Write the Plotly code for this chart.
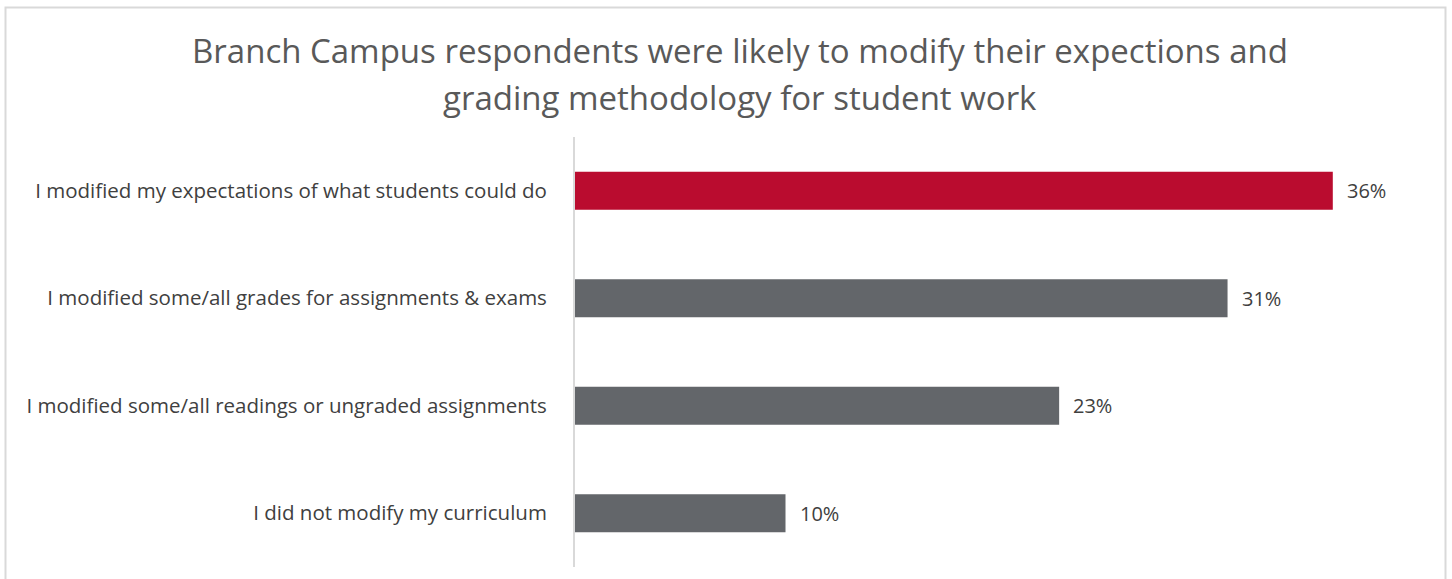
import plotly.graph_objects as go

categories = [
    "I modified my expectations of what students could do",
    "I modified some/all grades for assignments & exams",
    "I modified some/all readings or ungraded assignments",
    "I did not modify my curriculum",
]
values = [36, 31, 23, 10]
value_labels = ["36%", "31%", "23%", "10%"]
bar_colors = ["#BA0C2F", "#63666A", "#63666A", "#63666A"]

title_lines = [
    "Branch Campus respondents were likely to modify their expections and",
    "grading methodology for student work",
]

FONT = "Open Sans, Segoe UI, sans-serif"

W, H = 1452, 579
ML, MR, MT, MB = 575, 35, 137, 12
plot_w = W - ML - MR
plot_h = H - MT - MB


def px_x(x):
    return (x - ML) / plot_w


def px_y(y):
    return (H - MB - y) / plot_h


fig = go.Figure(
    go.Bar(
        y=categories,
        x=values,
        orientation="h",
        marker=dict(color=bar_colors, line=dict(width=0)),
        hoverinfo="skip",
    )
)

# value labels to the right of each bar
for cat, v, lab in zip(categories, values, value_labels):
    fig.add_annotation(
        x=v, y=cat, text=lab, xanchor="left", yanchor="middle",
        xshift=12, showarrow=False,
        font=dict(family=FONT, size=20, color="#404040"),
    )

# centred two-line heading
for line, yc in zip(title_lines, [50, 97]):
    fig.add_annotation(
        x=px_x(740), y=px_y(yc), xref="paper", yref="paper", text=line,
        showarrow=False, align="center", xanchor="center", yanchor="middle",
        font=dict(family=FONT, size=33, color="#595959"),
    )

fig.update_layout(
    width=W, height=H,
    margin=dict(l=ML, r=MR, t=MT, b=MB),
    paper_bgcolor="white", plot_bgcolor="white",
    showlegend=False,
    bargap=0.645,
    xaxis=dict(range=[0, 40], visible=False, fixedrange=True),
    yaxis=dict(
        autorange="reversed",
        showline=True, linecolor="#D9D9D9", linewidth=2,
        showgrid=False, zeroline=False, ticks="",
        ticklabelstandoff=22,
        tickfont=dict(family=FONT, size=20.5, color="#404040"),
        fixedrange=True,
    ),
)

# outer frame around the whole graphic
fig.add_shape(
    type="rect", xref="paper", yref="paper",
    x0=px_x(5.5), x1=px_x(1445.5),
    y0=px_y(592), y1=px_y(7.5),
    line=dict(color="#D9D9D9", width=2), fillcolor="rgba(0,0,0,0)",
    layer="below",
)

fig.write_html("out.html")
